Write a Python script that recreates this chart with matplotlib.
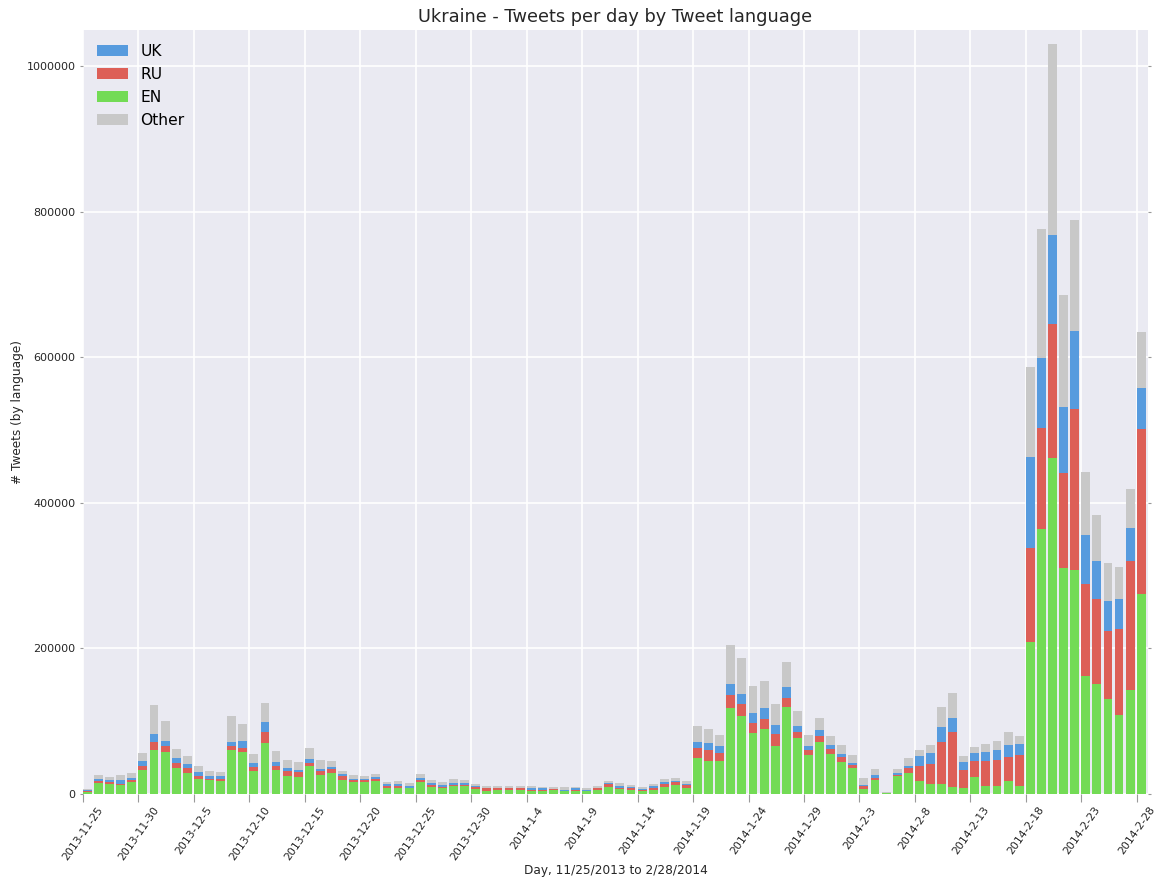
"""
Ukraine tweets per day, stacked by tweet language (EN / RU / UK / Other).
Values read off the reference chart, in thousands of tweets per day.
"""

import matplotlib

matplotlib.use("Agg")
import matplotlib.pyplot as plt
import numpy as np
import pandas as pd

# one entry per day, 2013-11-25 .. 2014-02-28 (96 days)
days = pd.date_range("2013-11-25", "2014-02-28", freq="D")

en_k = [
    2.3, 15.0, 13.8, 12.4, 16.5, 33.0, 60.6, 57.9, 35.8, 28.9,
    21.0, 18.3, 17.9, 60.6, 57.9, 31.7, 70.2, 33.0, 24.8, 23.4,
    38.6, 26.2, 28.9, 19.3, 16.5, 16.5, 17.9, 8.3, 8.3, 7.3,
    16.5, 9.6, 8.3, 11.0, 11.0, 6.9, 4.1, 5.5, 5.5, 5.5,
    4.1, 4.1, 5.5, 4.1, 4.1, 4.1, 5.5, 9.6, 6.9, 5.5,
    4.1, 5.5, 9.6, 12.4, 8.3, 49.6, 45.5, 45.5, 117.4, 107.4,
    84.0, 89.5, 66.1, 119.8, 77.1, 53.7, 71.6, 55.1, 44.0, 35.8,
    6.9, 19.3, 1.4, 24.8, 28.9, 17.9, 13.8, 13.8, 9.6, 8.3,
    23.4, 11.0, 11.0, 17.9, 11.0, 208.0, 363.6, 461.4, 309.9, 307.2,
    162.5, 151.5, 130.9, 108.8, 143.2, 274.1,
]
ru_k = [
    2.2, 2.9, 2.7, 0.9, 2.8, 5.6, 11.0, 7.1, 7.2, 6.0,
    3.3, 2.7, 2.8, 5.5, 5.5, 5.5, 14.2, 5.6, 6.9, 6.0,
    4.4, 5.5, 5.5, 4.5, 2.8, 2.8, 2.8, 2.7, 2.7, 1.0,
    2.8, 2.8, 1.3, 1.4, 1.4, 2.7, 3.2, 1.8, 2.8, 1.8,
    1.4, 1.4, 1.4, 0.2, 1.4, 0.2, 1.8, 3.3, 1.4, 2.8,
    1.4, 2.8, 4.2, 4.1, 4.1, 12.8, 15.1, 11.0, 19.0, 16.6,
    13.8, 13.8, 16.5, 12.4, 8.3, 5.9, 8.3, 6.9, 7.0, 4.1,
    4.1, 2.7, 0.0, 1.4, 6.9, 20.7, 27.5, 57.8, 74.8, 24.7,
    22.1, 34.5, 35.8, 33.1, 42.7, 129.9, 139.1, 184.6, 130.9, 221.7,
    125.8, 115.7, 92.2, 117.1, 176.4, 227.3,
]
uk_k = [
    0.3, 2.8, 1.8, 6.0, 2.7, 6.9, 11.0, 8.0, 6.6, 6.4,
    6.0, 3.8, 4.1, 5.5, 9.6, 5.5, 14.8, 5.4, 4.1, 3.6,
    5.2, 2.7, 2.8, 2.8, 1.4, 1.4, 2.6, 1.9, 1.9, 2.7,
    2.7, 2.8, 2.8, 2.8, 2.8, 1.4, 1.0, 1.0, 0.0, 1.0,
    2.8, 1.8, 0.3, 1.2, 1.8, 1.2, 1.0, 2.1, 2.7, 1.3,
    1.4, 2.7, 2.7, 1.4, 1.4, 9.2, 9.6, 9.6, 15.1, 13.7,
    13.8, 15.2, 12.4, 15.2, 8.3, 6.5, 8.3, 5.5, 4.1, 2.8,
    0.5, 4.2, 0.0, 2.7, 2.8, 13.7, 15.2, 20.7, 20.3, 11.0,
    11.0, 12.4, 13.8, 16.5, 15.2, 124.9, 96.6, 122.6, 90.9, 107.5,
    67.1, 52.4, 41.4, 41.3, 45.4, 56.4,
]
other_k = [
    2.1, 5.3, 5.1, 6.7, 6.9, 11.0, 40.0, 27.5, 12.4, 11.0,
    8.3, 6.9, 5.5, 35.8, 23.4, 12.4, 26.1, 15.2, 11.0, 11.0,
    15.2, 12.4, 8.3, 5.4, 5.3, 4.1, 4.1, 3.6, 5.0, 4.2,
    5.5, 4.1, 4.1, 5.5, 4.1, 2.8, 2.7, 2.7, 2.7, 2.7,
    2.7, 2.3, 2.4, 4.1, 2.3, 2.8, 2.7, 2.9, 4.2, 2.8,
    2.7, 2.8, 4.2, 4.1, 4.1, 22.1, 19.3, 15.2, 53.7, 49.6,
    37.2, 37.1, 29.0, 34.4, 20.6, 15.2, 16.5, 12.4, 12.4, 11.0,
    10.5, 8.2, 1.4, 5.5, 11.0, 8.3, 11.0, 27.5, 34.4, 8.3,
    8.2, 11.0, 12.4, 17.9, 11.0, 124.0, 177.6, 261.7, 154.3, 152.8,
    86.7, 63.3, 52.3, 44.1, 53.7, 77.2,
]

COLORS = {
    "UK": "#579BDE",
    "RU": "#DD5F57",
    "EN": "#73DB55",
    "Other": "#C8C8C8",
}


def main():
    en = np.array(en_k) * 1000
    ru = np.array(ru_k) * 1000
    uk = np.array(uk_k) * 1000
    other = np.array(other_k) * 1000

    plt.rcParams["font.family"] = "DejaVu Sans"
    fig = plt.figure(figsize=(11.63, 8.81), dpi=100)
    ax = fig.add_axes([0.0714, 0.099, 0.9156, 0.867])
    ax.set_facecolor("#EAEAF2")
    for s in ax.spines.values():
        s.set_visible(False)
    ax.grid(True, color="white", linewidth=1.2)
    ax.set_axisbelow(True)

    x = np.arange(len(days))
    w = 0.8
    b_en = ax.bar(x, en, w, align="edge", color=COLORS["EN"], linewidth=0)
    b_ru = ax.bar(x, ru, w, bottom=en, align="edge", color=COLORS["RU"], linewidth=0)
    b_uk = ax.bar(x, uk, w, bottom=en + ru, align="edge", color=COLORS["UK"], linewidth=0)
    b_ot = ax.bar(x, other, w, bottom=en + ru + uk, align="edge",
                  color=COLORS["Other"], linewidth=0)

    ticks = x[::5]
    ax.set_xticks(ticks)
    ax.set_xticklabels([f"{d.year}-{d.month}-{d.day}" for d in days[::5]],
                       rotation=55, ha="center", fontsize=7.8, color="#262626")
    ax.set_xlim(0, 96)
    ax.set_ylim(0, 1050000)
    ax.set_yticks(np.arange(0, 1000001, 200000))
    ax.ticklabel_format(style="plain", axis="y")
    ax.tick_params(axis="y", labelsize=8, length=2, color="#999999", right=True,
                   labelcolor="#262626")
    ax.tick_params(axis="x", length=6, color="#999999", pad=2)

    ax.set_title("Ukraine - Tweets per day by Tweet language", fontsize=12.8,
                 color="#262626")
    ax.set_xlabel("Day, 11/25/2013 to 2/28/2014", fontsize=8.7, labelpad=1,
                  color="#262626")
    ax.set_ylabel("# Tweets (by language)", fontsize=8.7, color="#262626",
                  labelpad=2)

    ax.legend([b_uk, b_ru, b_en, b_ot], ["UK", "RU", "EN", "Other"],
              loc="upper left", frameon=False, fontsize=11.2,
              handlelength=2.0, labelspacing=0.52, borderaxespad=0.5)

    fig.savefig("out.png", dpi=100)


if __name__ == "__main__":
    main()
